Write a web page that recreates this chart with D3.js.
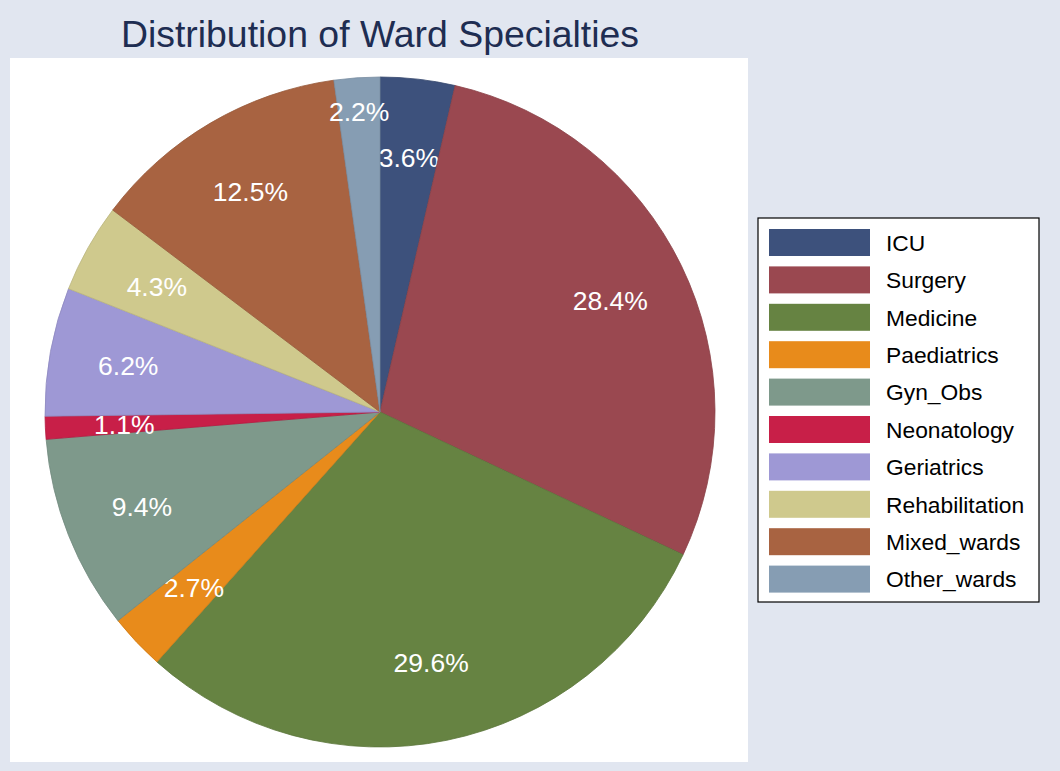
<!DOCTYPE html>
<html>
<head>
<meta charset="utf-8">
<script src="https://cdn.jsdelivr.net/npm/d3@7"></script>
<style>
  body { margin: 0; background: #e1e6f0; }
  svg { display: block; font-family: "Liberation Sans", Arial, sans-serif; }
</style>
</head>
<body>
<svg id="chart" width="1060" height="771"></svg>
<script>
// ward specialty shares (percent)
var wards = ["ICU", "Surgery", "Medicine", "Paediatrics", "Gyn_Obs", "Neonatology",
  "Geriatrics", "Rehabilitation", "Mixed_wards", "Other_wards"];
var shares = [3.6, 28.4, 29.6, 2.7, 9.4, 1.1, 6.2, 4.3, 12.5, 2.2];
var colors = ["#3d517c", "#9a4850", "#668342", "#e88b1b", "#7e998b", "#c81f48",
  "#9e98d5", "#cfc98d", "#a86341", "#869db3"];

var svg = d3.select("#chart");

svg.append("rect")
  .attr("x", 0).attr("y", 0)
  .attr("width", 1060).attr("height", 771)
  .attr("fill", "#e1e6f0");

// white plot region
svg.append("rect")
  .attr("x", 10).attr("y", 58)
  .attr("width", 738).attr("height", 704)
  .attr("fill", "#ffffff");

svg.append("text")
  .attr("x", 380).attr("y", 47)
  .attr("text-anchor", "middle")
  .attr("font-size", 37.4)
  .attr("fill", "#1e2d52")
  .text("Distribution of Ward Specialties");

var cx = 380, cy = 412, radius = 335;

var data = wards.map(function (w, i) {
  return { name: w, value: shares[i], color: colors[i] };
});

var pie = d3.pie()
  .sort(null)
  .value(function (d) { return d.value; });

var arc = d3.arc().innerRadius(0).outerRadius(radius);

// labels sit at ~0.76 r; a label that would collide with its neighbour is pushed outward
function labelPos(d, i) {
  var r = 256;
  if (i === data.length - 1) r = 301;
  var a = (d.startAngle + d.endAngle) / 2;
  return [r * Math.sin(a), -r * Math.cos(a)];
}

var g = svg.append("g").attr("transform", "translate(" + cx + "," + cy + ")");

var slices = g.selectAll("g.slice")
  .data(pie(data))
  .enter().append("g")
  .attr("class", "slice");

slices.append("path")
  .attr("d", arc)
  .attr("fill", function (d) { return d.data.color; })
  .attr("stroke", function (d) { return d3.color(d.data.color).darker(0.3); })
  .attr("stroke-width", 0.8);

slices.append("text")
  .attr("transform", function (d, i) { return "translate(" + labelPos(d, i) + ")"; })
  .attr("text-anchor", "middle")
  .attr("dy", "0.36em")
  .attr("font-size", 26.5)
  .attr("fill", "#ffffff")
  .text(function (d) { return d.data.value.toFixed(1) + "%"; });

// legend
var legend = svg.append("g").attr("transform", "translate(758,218)");

legend.append("rect")
  .attr("x", 0).attr("y", 0)
  .attr("width", 281).attr("height", 384)
  .attr("fill", "#ffffff")
  .attr("stroke", "#000000")
  .attr("stroke-width", 1.2);

var rows = legend.selectAll("g.row")
  .data(data)
  .enter().append("g")
  .attr("class", "row")
  .attr("transform", function (d, i) { return "translate(11," + (11 + i * 37.4) + ")"; });

rows.append("rect")
  .attr("width", 101).attr("height", 27)
  .attr("fill", function (d) { return d.color; });

rows.append("text")
  .attr("x", 117).attr("y", 13.5)
  .attr("dy", "0.36em")
  .attr("font-size", 22.8)
  .attr("fill", "#000000")
  .text(function (d) { return d.name; });
</script>
</body>
</html>
